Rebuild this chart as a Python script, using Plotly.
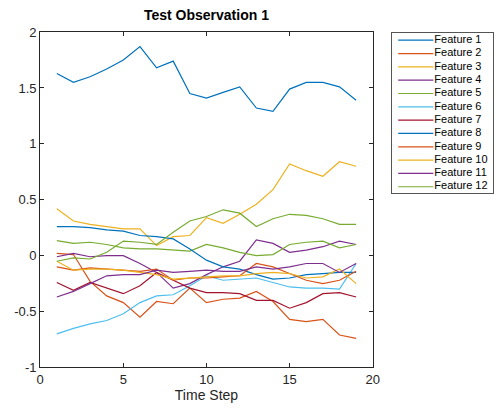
import plotly.graph_objects as go

# ---------------- data ----------------
time_step = list(range(1, 20))
feature_names = [f"Feature {i}" for i in range(1, 13)]

f1 = [1.63, 1.55, 1.60, 1.67, 1.75, 1.87, 1.68, 1.74, 1.45, 1.41, 1.46, 1.51, 1.32, 1.29, 1.49, 1.55, 1.55, 1.51, 1.39]
f2 = [0.02, 0.01, -0.23, -0.36, -0.42, -0.55, -0.41, -0.43, -0.29, -0.42, -0.39, -0.38, -0.32, -0.41, -0.57, -0.59, -0.57, -0.71, -0.74]
f3 = [0.42, 0.31, 0.28, 0.26, 0.24, 0.24, 0.09, 0.17, 0.18, 0.34, 0.29, 0.37, 0.46, 0.59, 0.82, 0.76, 0.71, 0.84, 0.80]
f4 = [-0.01, 0.02, -0.01, 0.00, 0.00, -0.07, -0.15, -0.29, -0.25, -0.17, -0.10, -0.05, 0.14, 0.11, 0.03, 0.05, 0.08, 0.13, 0.10]
f5 = [0.135, 0.11, 0.12, 0.10, 0.07, 0.06, 0.06, 0.05, 0.04, 0.10, 0.07, 0.03, 0.00, 0.01, 0.10, 0.12, 0.13, 0.07, 0.10]
f6 = [-0.70, -0.65, -0.61, -0.58, -0.52, -0.42, -0.36, -0.35, -0.27, -0.18, -0.22, -0.21, -0.20, -0.24, -0.28, -0.29, -0.29, -0.30, -0.07]
f7 = [-0.24, -0.31, -0.24, -0.29, -0.34, -0.27, -0.15, -0.22, -0.29, -0.33, -0.33, -0.34, -0.40, -0.40, -0.47, -0.42, -0.34, -0.33, -0.37]
f8 = [0.26, 0.26, 0.25, 0.23, 0.22, 0.18, 0.17, 0.15, 0.06, -0.04, -0.10, -0.12, -0.17, -0.21, -0.20, -0.17, -0.16, -0.15, -0.15]
f9 = [-0.10, -0.13, -0.11, -0.12, -0.13, -0.14, -0.12, -0.22, -0.20, -0.20, -0.19, -0.18, -0.07, -0.10, -0.16, -0.22, -0.25, -0.22, -0.14]
f10 = [-0.05, -0.13, -0.12, -0.12, -0.13, -0.15, -0.17, -0.21, -0.20, -0.19, -0.18, -0.18, -0.16, -0.15, -0.16, -0.20, -0.19, -0.12, -0.25]
f11 = [-0.37, -0.32, -0.25, -0.18, -0.17, -0.17, -0.13, -0.15, -0.14, -0.13, -0.14, -0.14, -0.10, -0.12, -0.10, -0.07, -0.07, -0.15, -0.07]
f12 = [-0.05, -0.02, -0.03, 0.03, 0.13, 0.12, 0.10, 0.21, 0.31, 0.35, 0.41, 0.38, 0.26, 0.33, 0.37, 0.36, 0.33, 0.28, 0.28]

features = [f1, f2, f3, f4, f5, f6, f7, f8, f9, f10, f11, f12]

x_ticks = [0, 5, 10, 15, 20]
y_ticks = [-1, -0.5, 0, 0.5, 1, 1.5, 2]
y_tick_labels = ["-1", "-0.5", "0", "0.5", "1", "1.5", "2"]

# MATLAB default colour order
palette = ["#0072BD", "#D95319", "#EDB120", "#7E2F8E", "#77AC30", "#4DBEEE", "#A2142F"]

# ---------------- layout geometry (pixels) ----------------
W, H = 503, 414
AX_L, AX_R, AX_T, AX_B = 37, 377, 26, 374
LG_L, LG_R, LG_T, LG_B = 397, 500, 27, 193
FONT = "Liberation Sans, Arial, Helvetica, sans-serif"
AXC = "#262626"

fig = go.Figure()

for i, (name, vals) in enumerate(zip(feature_names, features)):
    fig.add_trace(go.Scatter(
        x=time_step, y=vals, mode="lines", name=name,
        line=dict(color=palette[i % len(palette)], width=1.2),
        xaxis="x", yaxis="y", showlegend=False,
    ))

# legend drawn in its own small axes (entry index -> row)
rows = list(range(len(feature_names)))
for i, name in enumerate(feature_names):
    fig.add_trace(go.Scatter(
        x=[6, 42], y=[i, i], mode="lines",
        line=dict(color=palette[i % len(palette)], width=1.2),
        xaxis="x2", yaxis="y2", showlegend=False, hoverinfo="skip",
    ))
fig.add_trace(go.Scatter(
    x=[43] * len(feature_names), y=rows, mode="text", text=feature_names,
    textposition="middle right", textfont=dict(family=FONT, size=11, color="#000000"),
    xaxis="x2", yaxis="y2", showlegend=False, hoverinfo="skip", cliponaxis=False,
))

axis_common = dict(
    showline=True, linecolor=AXC, linewidth=1, mirror="ticks",
    ticks="inside", ticklen=4, tickcolor=AXC, tickwidth=1,
    showgrid=False, zeroline=False,
    tickfont=dict(family=FONT, size=13, color=AXC),
)

fig.update_layout(
    width=W, height=H, autosize=False,
    margin=dict(l=0, r=0, t=0, b=0),
    paper_bgcolor="white", plot_bgcolor="white",
    showlegend=False,
    font=dict(family=FONT, color=AXC),
    title=dict(
        text="<b>Test Observation 1</b>",
        x=(AX_L + AX_R) / 2 / W, xanchor="center", xref="paper",
        y=1 - 15.5 / H, yanchor="middle", yref="container",
        font=dict(family=FONT, size=14, color="#000000"),
    ),
    xaxis=dict(
        domain=[AX_L / W, AX_R / W], range=[0, 20], tickvals=x_ticks,
        title=dict(text="Time Step", font=dict(family=FONT, size=14, color=AXC), standoff=4),
        anchor="y", **axis_common,
    ),
    yaxis=dict(
        domain=[1 - AX_B / H, 1 - AX_T / H], range=[-1, 2],
        tickvals=y_ticks, ticktext=y_tick_labels,
        anchor="x", **axis_common,
    ),
    xaxis2=dict(
        domain=[LG_L / W, LG_R / W], range=[0, LG_R - LG_L], anchor="y2",
        showline=True, linecolor="#555555", linewidth=1, mirror=True,
        showticklabels=False, ticks="", showgrid=False, zeroline=False, fixedrange=True,
    ),
    yaxis2=dict(
        domain=[1 - LG_B / H, 1 - LG_T / H], range=[11.47, -0.54], anchor="x2",
        showline=True, linecolor="#555555", linewidth=1, mirror=True,
        showticklabels=False, ticks="", showgrid=False, zeroline=False, fixedrange=True,
    ),
)

fig.write_html(
    "out.html",
    config={"displayModeBar": False},
    post_script="document.body.style.margin='0';",
)
